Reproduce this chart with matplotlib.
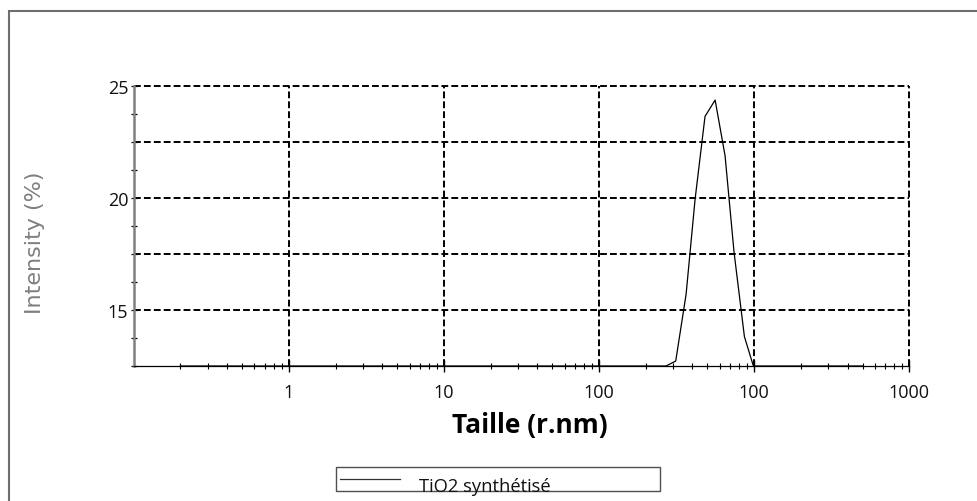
import matplotlib
matplotlib.use("Agg")
import matplotlib.pyplot as plt
from matplotlib.patches import Rectangle
from matplotlib.lines import Line2D
from matplotlib.ticker import FixedLocator, NullFormatter

# ---- data ----
size_nm = [0.2, 270, 312, 364, 416, 482, 560, 649, 742, 865, 988, 5000]
intensity = [12.5, 12.5, 12.72, 15.70, 19.94, 23.63, 24.36, 21.88, 17.56, 13.81, 12.5, 12.5]
series_label = "TiO2 synthétisé"

x_tick_pos = [1, 10, 100, 1000, 10000]
x_tick_labels = ["1", "10", "100", "100", "1000"]
y_major = [15, 20, 25]
y_grid = [15, 17.5, 20, 22.5, 25]
y_minor = [12.5, 13.75, 16.25, 17.5, 18.75, 21.25, 22.5, 23.75]
x_label = "Taille (r.nm)"
y_label = "Intensity (%)"

W, H = 978, 502
fig = plt.figure(figsize=(W / 100, H / 100), dpi=100)
fig.patch.set_facecolor("white")

def fx(px):
    return px / W

def fy(py):
    return 1 - py / H

left, right, top, bottom = 133.7, 909.3, 86.7, 367.0
ax = fig.add_axes([fx(left), fy(bottom), fx(right) - fx(left), fy(top) - fy(bottom)])

line, = ax.plot(size_nm, intensity, color="black", lw=0.9, clip_on=False, label=series_label, zorder=5)
ax.set_xscale("log")
ax.set_xlim(0.1, 10000)
ax.set_ylim(12.5, 25)

grid_kw = dict(color="black", lw=1.4, linestyle=(0, (3.5, 1.6)), zorder=1, clip_on=False)
for xv in x_tick_pos:
    ax.axvline(xv, **grid_kw)
for yv in y_grid:
    ax.axhline(yv, **grid_kw)

for s in ["top", "right"]:
    ax.spines[s].set_visible(False)
ax.spines["left"].set_color("#808080")
ax.spines["left"].set_linewidth(1.8)
ax.spines["bottom"].set_color("black")
ax.spines["bottom"].set_linewidth(0.9)

ax.xaxis.set_major_locator(FixedLocator(x_tick_pos))
ax.set_xticklabels(x_tick_labels)
minor_x = [k * 10.0 ** d for d in range(-1, 4) for k in range(2, 10)]
ax.xaxis.set_minor_locator(FixedLocator(minor_x))
ax.xaxis.set_minor_formatter(NullFormatter())

ax.yaxis.set_major_locator(FixedLocator(y_major))
ax.set_yticklabels([str(v) for v in y_major])
ax.yaxis.set_minor_locator(FixedLocator(y_minor))

ax.tick_params(axis="x", which="major", direction="inout", length=9, width=1, colors="black", pad=8)
ax.tick_params(axis="x", which="minor", direction="inout", length=4.5, width=0.8, colors="black")
ax.tick_params(axis="y", which="both", direction="inout", length=5, width=0.9, colors="black", pad=1.5)
for lab in ax.get_xticklabels() + ax.get_yticklabels():
    lab.set_fontfamily("Open Sans")
    lab.set_fontsize(13)
    lab.set_color("#111111")

ax.set_xlabel(x_label, fontfamily="Open Sans", fontweight="bold", fontsize=19,
              va="baseline", ha="center")
ax.xaxis.set_label_coords(fx(530), fy(433), transform=fig.transFigure)

fig.text(fx(35), fy(243), y_label, rotation=90, ha="center", va="center",
         fontfamily="DejaVu Sans", fontsize=16, color="#7f7f7f")

# outer frame
fig.patches.append(Rectangle((fx(8.5), fy(520)), fx(1000), fy(12) - fy(520),
                             transform=fig.transFigure, fill=False,
                             edgecolor="#6e6e6e", lw=1.5))

# legend box
fig.patches.append(Rectangle((fx(335.7), fy(492.3)), fx(660) - fx(335.7), fy(468.3) - fy(492.3),
                             transform=fig.transFigure, fill=False,
                             edgecolor="#505050", lw=1.0))
fig.lines.append(Line2D([fx(340), fx(400)], [fy(480), fy(480)], transform=fig.transFigure,
                        color="#333333", lw=0.9))
fig.text(fx(419), fy(492.3), line.get_label(), ha="left", va="baseline",
         fontfamily="Open Sans", fontsize=13.2, color="#111111")

fig.savefig("out.png", dpi=100, facecolor="white")
